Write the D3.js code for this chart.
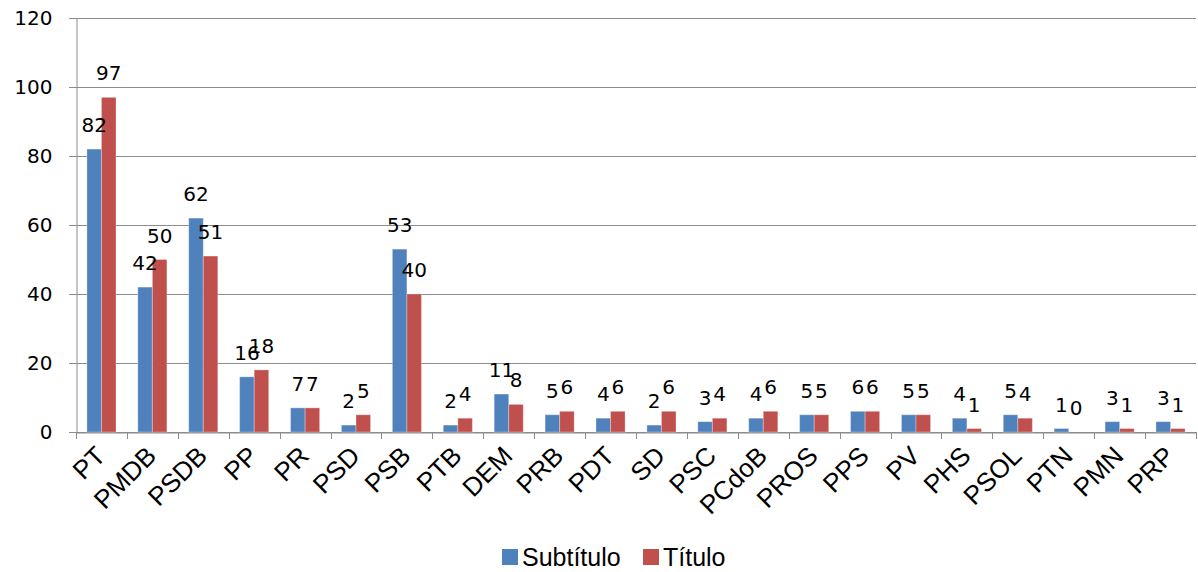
<!DOCTYPE html>
<html><head><meta charset="utf-8">
<script src="https://cdn.jsdelivr.net/npm/d3@7"></script>
<style>body{margin:0;background:#fff}svg{display:block}</style>
</head><body>
<svg id="c" width="1198" height="572"></svg>
<script>
const categories = ["PT","PMDB","PSDB","PP","PR","PSD","PSB","PTB","DEM","PRB","PDT","SD","PSC","PCdoB","PROS","PPS","PV","PHS","PSOL","PTN","PMN","PRP"];
const seriesNames = ["Subtítulo","Título"];
const subtitulo = [82,42,62,16,7,2,53,2,11,5,4,2,3,4,5,6,5,4,5,1,3,3];
const titulo = [97,50,51,18,7,5,40,4,8,6,6,6,4,6,5,6,5,1,4,0,1,1];
const yTicks = [0,20,40,60,80,100,120];
const colors = ["#4F81BD","#C0504D"];

const svg = d3.select("#c");
const L = 76, R = 1196, T = 18, B = 432;
const x0 = d3.scaleBand().domain(categories).range([L, R]).paddingInner(0).paddingOuter(0);
const x1 = d3.scaleBand().domain(seriesNames).range([0, x0.bandwidth()]).paddingInner(0).paddingOuter(0.75);
const y = d3.scaleLinear().domain([0,120]).range([B, T]);
const numFont = "'DejaVu Sans', sans-serif";
const txtFont = "'Liberation Sans', Arial, sans-serif";

// gridlines
svg.append("g").selectAll("line").data(yTicks).join("line")
  .attr("x1", L - 7).attr("x2", R).attr("y1", d => Math.round(y(d)) + 0.5).attr("y2", d => Math.round(y(d)) + 0.5)
  .attr("stroke", "#8c8c8c").attr("stroke-width", 1);

// y axis
const yAxis = svg.append("g").attr("transform", `translate(${L + 0.5},0)`)
  .call(d3.axisLeft(y).tickValues(yTicks).tickSize(0).tickPadding(24));
yAxis.select(".domain").attr("stroke", "#8c8c8c");
yAxis.selectAll("text").attr("font-family", numFont).attr("font-size", 20).attr("fill", "#000");

// x axis
const xAxis = svg.append("g").attr("transform", `translate(0,${B + 0.5})`)
  .call(d3.axisBottom(x0).tickSize(0).tickFormat(""));
xAxis.select(".domain").attr("stroke", "#8c8c8c");
const bounds = categories.map(c => x0(c)).concat([R]);
svg.append("g").selectAll("line").data(bounds).join("line")
  .attr("x1", d => Math.round(d) + 0.5).attr("x2", d => Math.round(d) + 0.5)
  .attr("y1", B).attr("y2", B + 7).attr("stroke", "#8c8c8c");

// x labels
svg.append("g").selectAll("text").data(categories).join("text")
  .attr("transform", d => `translate(${x0(d) + x0.bandwidth()/2 - 1},${B + 19}) rotate(-45)`)
  .attr("text-anchor", "end").attr("dy", "0.35em")
  .attr("font-family", txtFont).attr("font-size", 26).attr("fill", "#000")
  .text(d => d);

// bars
const data = categories.map((c, i) => ({c, vals: [subtitulo[i], titulo[i]]}));
const g = svg.append("g").selectAll("g").data(data).join("g")
  .attr("transform", d => `translate(${x0(d.c)},0)`);
g.selectAll("rect").data(d => d.vals.map((v, j) => ({s: seriesNames[j], v, j}))).join("rect")
  .attr("x", d => x1(d.s)).attr("width", x1.bandwidth())
  .attr("y", d => y(d.v)).attr("height", d => B - y(d.v))
  .attr("fill", d => colors[d.j])
  .attr("stroke", "rgba(255,255,255,0.3)").attr("stroke-width", 1);
g.selectAll("text").data(d => d.vals.map((v, j) => ({s: seriesNames[j], v, j}))).join("text")
  .attr("x", d => x1(d.s) + x1.bandwidth()/2).attr("y", d => y(d.v) - 17)
  .attr("text-anchor", "middle").attr("font-family", numFont).attr("font-size", 20).attr("fill", "#000")
  .text(d => d.v);

// legend
const leg = svg.append("g");
const items = [{n: seriesNames[0], x: 502}, {n: seriesNames[1], x: 643}];
items.forEach((it, i) => {
  leg.append("rect").attr("x", it.x).attr("y", 549).attr("width", 16).attr("height", 16).attr("fill", colors[i]);
  leg.append("text").attr("x", it.x + 20).attr("y", 566).attr("font-family", txtFont).attr("font-size", 25).attr("fill", "#000").text(it.n);
});
</script>
</body></html>
